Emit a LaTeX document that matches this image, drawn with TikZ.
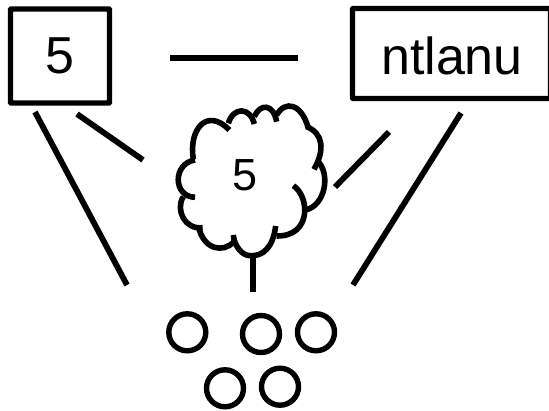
\documentclass[tikz,border=0pt]{standalone}
\usepackage{fontspec}
\setmainfont{Liberation Sans}
\tikzset{
  link/.style={line width=5.8pt},
  boxnode/.style={draw,line width=5.4pt,rounded corners=0.8pt,inner sep=0pt,outer sep=0pt,font=\fontsize{52}{52}\selectfont},
  ring/.style={circle,draw,line width=5.4pt,minimum size=37pt,inner sep=0pt,outer sep=0pt},
  puff/.style={line width=5.6pt}
}
\begin{document}
\begin{tikzpicture}[x=1pt,y=-1pt]
\useasboundingbox (0,0) rectangle (549,411);
\clip (0,0) rectangle (549,411);
\node[boxnode,minimum width=99pt,minimum height=94pt] (left) at (60,56) {5};
\node[boxnode,minimum width=198pt,minimum height=90pt] (right) at (451.5,53.5) {};
\node[font=\fontsize{52}{52}\selectfont] (rightlabel) at (452,56) {ntlanu};
\node[font=\fontsize{45}{45}\selectfont] (mid) at (245.5,175) {5};
\begin{scope}[shift={(160,100)},x=0.3333pt,y=-0.3333pt,puff]
\draw (100,178) .. controls (85,90) and (140,20) .. (208,90);
\draw (205,70) .. controls (220,20) and (270,20) .. (283,72);
\draw (283,50) .. controls (300,10) and (340,10) .. (350,65);
\draw (350,45) .. controls (375,0) and (425,10) .. (445,85);
\draw (440,80) .. controls (490,100) and (495,150) .. (462,208);
\draw (470,180) .. controls (515,220) and (495,320) .. (435,330);
\draw (400,257) .. controls (450,290) and (455,410) .. (350,408);
\draw (347,378) .. controls (340,440) and (310,470) .. (270,467) .. controls (245,467) and (222,435) .. (220,405);
\draw (222,425) .. controls (190,460) and (130,450) .. (115,378);
\draw (128,383) .. controls (75,390) and (45,330) .. (70,290);
\draw (105,292) .. controls (38,290) and (38,190) .. (105,180);
\end{scope}
\coordinate (a1) at (35,112); \coordinate (a2) at (127,285);
\coordinate (b1) at (77,114); \coordinate (b2) at (143,160);
\coordinate (c1) at (170,58); \coordinate (c2) at (298,58);
\coordinate (d1) at (389,132); \coordinate (d2) at (335,187);
\coordinate (e1) at (461,113); \coordinate (e2) at (353,285);
\coordinate (f1) at (253,255); \coordinate (f2) at (253,292);
\draw[link] (a1) -- (a2);
\draw[link] (b1) -- (b2);
\draw[link] (c1) -- (c2);
\draw[link] (d1) -- (d2);
\draw[link] (e1) -- (e2);
\draw[link] (f1) -- (f2);
\node[ring] (r1) at (187.3,332.3) {};
\node[ring] (r2) at (261,334) {};
\node[ring] (r3) at (316,332.3) {};
\node[ring] (r4) at (225,388.3) {};
\node[ring] (r5) at (280,386.7) {};
\end{tikzpicture}
\end{document}
